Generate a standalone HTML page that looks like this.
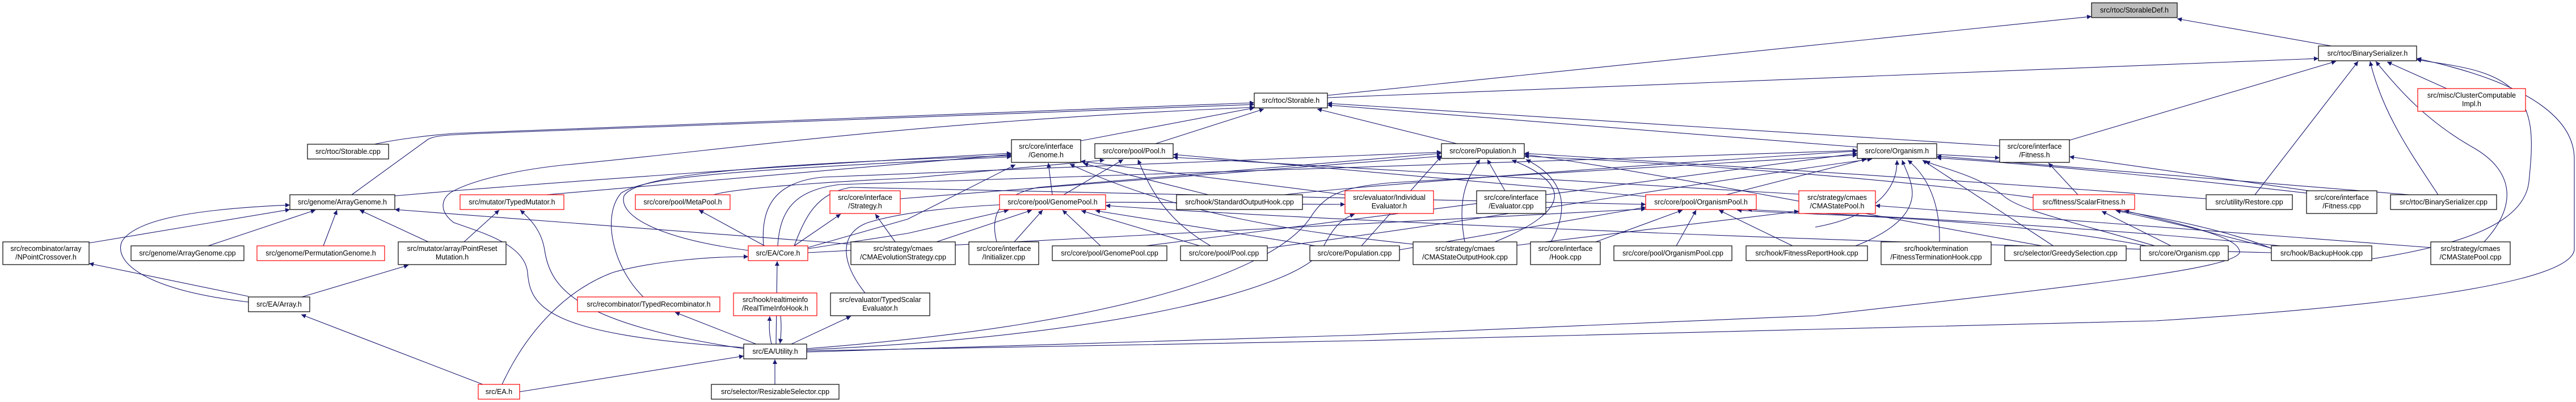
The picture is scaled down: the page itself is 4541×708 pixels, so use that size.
<!DOCTYPE html>
<html><head><meta charset="utf-8"><style>
html,body{margin:0;padding:0;background:#fff;}
svg{display:block;}
text{font-family:"Liberation Sans",sans-serif;font-size:12.5px;fill:#000;text-anchor:middle;}
.e{fill:none;stroke:#191970;stroke-width:1.1;marker-end:url(#a);}
.n{fill:#fff;stroke:#000;stroke-width:1.2;}
.r{fill:#fff;stroke:#ff0000;stroke-width:1.2;}
</style></head><body>
<svg width="4541" height="708" viewBox="0 0 4541 708" xmlns="http://www.w3.org/2000/svg">
<defs><marker id="a" viewBox="0 0 10 10" refX="10" refY="5" markerWidth="11" markerHeight="8" markerUnits="userSpaceOnUse" orient="auto"><path d="M0,0 L10,5 L0,10z" fill="#191970"/></marker></defs>
<g>
<path class="e" d="M2340,168 L3687,29"/>
<path class="e" d="M4110,81 L3838,33"/>
<path class="e" d="M2340,172 L4087,103"/>
<path class="e" d="M3648,247 L4118,108"/>
<path class="e" d="M3975,343 L4157,108"/>
<path class="e" d="M4298,343 C4250,270 4200,200 4178,108"/>
<path class="e" d="M4379,426 C4440,360 4430,300 4360,260 C4280,215 4230,160 4188,108"/>
<path class="e" d="M4313,156 L4208,109"/>
<path class="e" d="M4181,456 C4350,430 4450,390 4458,320 C4465,250 4470,190 4420,150 C4380,120 4320,115 4260,105"/>
<path class="e" d="M1422,618 L2400,600 L3800,565 C4200,540 4530,500 4538,440 L4538,280 C4538,220 4480,150 4260,103"/>
<path class="e" d="M660,254 C700,245 760,238 800,235 L2211,181"/>
<path class="e" d="M620,343 L755,245 C770,238 790,237 900,233 L2211,184"/>
<path class="e" d="M1311,612 C960,590 935,540 930,480 C925,430 850,410 800,392 C770,370 780,345 800,336 C830,320 900,300 1000,290 C1300,262 1600,215 2211,189"/>
<path class="e" d="M1905,248 L2211,190"/>
<path class="e" d="M2037,253 L2228,192"/>
<path class="e" d="M2568,253 L2322,192"/>
<path class="e" d="M3274,259 L2340,185"/>
<path class="e" d="M3525,257 L2340,182"/>
<path class="e" d="M696,345 L800,336 C1000,320 1400,290 1783,270"/>
<path class="e" d="M963,343 L1783,272"/>
<path class="e" d="M1319,441 C1160,420 1090,380 1100,345 C1120,310 1300,290 1783,274"/>
<path class="e" d="M1134,523 C1080,470 1060,380 1095,340 C1140,310 1300,300 1783,276"/>
<path class="e" d="M1424,436 L1600,386 L1790,290"/>
<path class="e" d="M1855,343 L1848,287"/>
<path class="e" d="M2130,343 L1910,288"/>
<path class="e" d="M2371,343 L1905,284"/>
<path class="e" d="M2491,430 C2300,410 2080,380 1886,289"/>
<path class="e" d="M1875,343 L1980,281"/>
<path class="e" d="M2134,433 C2060,390 2030,340 2006,281"/>
<path class="e" d="M1258,343 C1300,330 1500,318 1600,314 L1947,282"/>
<path class="e" d="M2901,346 L2068,272"/>
<path class="e" d="M3171,342 L2068,277"/>
<path class="e" d="M1346,433 C1340,360 1370,320 1450,312 L2541,268"/>
<path class="e" d="M1371,433 C1375,370 1400,335 1480,325 L3274,265"/>
<path class="e" d="M1400,433 C1420,380 1440,340 1500,330 L2901,360"/>
<path class="e" d="M2582,426 C2570,360 2580,320 2609,281"/>
<path class="e" d="M2653,336 L2622,281"/>
<path class="e" d="M2635,426 C2700,400 2745,370 2740,340 C2735,315 2700,295 2665,282"/>
<path class="e" d="M2734,426 C2760,380 2770,320 2690,281"/>
<path class="e" d="M2400,433 L2541,275"/>
<path class="e" d="M3600,433 C3300,380 2900,300 2687,272"/>
<path class="e" d="M4010,440 C3800,350 3200,300 2687,275"/>
<path class="e" d="M3043,343 L3290,280"/>
<path class="e" d="M3271,433 C3330,410 3370,380 3371,341 C3371,320 3360,300 3353,282"/>
<path class="e" d="M3419,427 C3420,380 3410,320 3363,282"/>
<path class="e" d="M3621,434 L3389,282"/>
<path class="e" d="M3802,434 C3650,390 3560,370 3532,345 C3490,310 3420,295 3394,284"/>
<path class="e" d="M3200,400 C3310,380 3345,330 3344,282"/>
<path class="e" d="M4247,343 L3414,275"/>
<path class="e" d="M1422,614 C2000,570 2260,470 2314,377 C2340,340 2370,330 2450,322 L3274,273"/>
<path class="e" d="M3414,272 L3525,278"/>
<path class="e" d="M3663,343 L3611,287"/>
<path class="e" d="M4070,336 L3648,276"/>
<path class="e" d="M2813,426 L2966,370"/>
<path class="e" d="M2955,433 L2990,370"/>
<path class="e" d="M3160,433 L3030,370"/>
<path class="e" d="M3790,434 C3500,380 3200,380 3062,370"/>
<path class="e" d="M4020,433 C3700,400 3300,380 3080,369"/>
<path class="e" d="M1424,445 L2901,368"/>
<path class="e" d="M2467,440 L2901,365"/>
<path class="e" d="M1424,438 L1600,411 L1778,370"/>
<path class="e" d="M1651,426 L1819,370"/>
<path class="e" d="M1788,426 L1838,370"/>
<path class="e" d="M1940,433 L1873,370"/>
<path class="e" d="M2115,433 L1906,371"/>
<path class="e" d="M2319,433 L1931,371"/>
<path class="e" d="M4004,445 C3000,420 2200,380 1949,362"/>
<path class="e" d="M1400,433 L1482,377"/>
<path class="e" d="M1578,426 L1543,377"/>
<path class="e" d="M1348,433 L1232,370"/>
<path class="e" d="M1368,606 L1370,460"/>
<path class="e" d="M1360,606 C1355,585 1356,570 1357,557"/>
<path class="e" d="M1376,556 C1378,575 1377,590 1375,605"/>
<path class="e" d="M885,677 C930,580 1000,510 1080,480 C1150,460 1250,452 1319,452"/>
<path class="e" d="M916,690 L1311,627"/>
<path class="e" d="M1366,677 L1366,633"/>
<path class="e" d="M1333,606 L1190,550"/>
<path class="e" d="M1395,606 L1500,557"/>
<path class="e" d="M1311,614 C1020,570 970,510 960,440 C955,410 940,390 917,370"/>
<path class="e" d="M851,677 L531,554"/>
<path class="e" d="M438,532 C250,510 200,460 215,425 C240,385 350,368 511,361"/>
<path class="e" d="M157,428 L511,369"/>
<path class="e" d="M367,433 L556,370"/>
<path class="e" d="M570,433 L594,370"/>
<path class="e" d="M755,426 L634,370"/>
<path class="e" d="M438,522 L157,464"/>
<path class="e" d="M532,523 L720,467"/>
<path class="e" d="M818,426 L880,370"/>
<path class="e" d="M1499,430 L696,369"/>
<path class="e" d="M1525,516 C1480,460 1480,410 1530,392 C1700,340 2100,360 2371,360"/>
<path class="e" d="M1422,616 C2000,590 2300,500 2330,440 C2350,400 2365,385 2388,377"/>
<path class="e" d="M1587,350 L2541,275"/>
<path class="e" d="M2264,343 C2400,327 2900,290 3274,266"/>
<path class="e" d="M2233,437 C2600,390 3000,320 3300,280"/>
<path class="e" d="M2020,433 C2300,400 2900,320 3274,270"/>
<path class="e" d="M1757,426 C1745,380 1760,345 1830,330 L2541,270"/>
<path class="e" d="M4285,436 L3306,362"/>
<path class="e" d="M3827,433 L3705,372"/>
<path class="e" d="M4004,437 C3900,410 3800,385 3730,371"/>
<path class="e" d="M1422,620 L2400,590 L3200,556 C3700,500 3935,473 3948,445 C3950,420 3870,400 3745,371"/>
<path class="e" d="M2674,432 L3171,372"/>
<path class="e" d="M3889,350 C3500,320 3000,290 2687,270"/>
<path class="e" d="M4066,340 C3800,310 3600,290 3414,278"/>
</g>
<g>
<rect x="3687" y="5" width="151" height="26" fill="#bfbfbf" stroke="#000" stroke-width="1.2"/><text x="3762.5" y="22">src/rtoc/StorableDef.h</text>
<rect class="n" x="4087" y="81" width="173" height="26"/><text x="4173.5" y="98">src/rtoc/BinarySerializer.h</text>
<rect class="n" x="2211" y="164" width="129" height="26"/><text x="2275.5" y="181">src/rtoc/Storable.h</text>
<rect class="r" x="4262" y="156" width="190" height="40"/><text x="4357" y="172">src/misc/ClusterComputable</text><text x="4357" y="187">Impl.h</text>
<rect class="n" x="542" y="254" width="143" height="26"/><text x="613.5" y="271">src/rtoc/Storable.cpp</text>
<rect class="n" x="1783" y="246" width="122" height="40"/><text x="1844" y="262">src/core/interface</text><text x="1844" y="277">/Genome.h</text>
<rect class="n" x="1930" y="253" width="138" height="26"/><text x="1999" y="270">src/core/pool/Pool.h</text>
<rect class="n" x="2541" y="253" width="146" height="26"/><text x="2614" y="270">src/core/Population.h</text>
<rect class="n" x="3274" y="253" width="140" height="26"/><text x="3344" y="270">src/core/Organism.h</text>
<rect class="n" x="3525" y="246" width="123" height="40"/><text x="3586.5" y="262">src/core/interface</text><text x="3586.5" y="277">/Fitness.h</text>
<rect class="n" x="511" y="343" width="185" height="26"/><text x="603.5" y="360">src/genome/ArrayGenome.h</text>
<rect class="r" x="811" y="343" width="183" height="26"/><text x="902.5" y="360">src/mutator/TypedMutator.h</text>
<rect class="r" x="1120" y="343" width="167" height="26"/><text x="1203.5" y="360">src/core/pool/MetaPool.h</text>
<rect class="r" x="1463" y="336" width="124" height="40"/><text x="1525" y="352">src/core/interface</text><text x="1525" y="367">/Strategy.h</text>
<rect class="r" x="1762" y="343" width="187" height="26"/><text x="1855.5" y="360">src/core/pool/GenomePool.h</text>
<rect class="n" x="2074" y="343" width="222" height="26"/><text x="2185" y="360">src/hook/StandardOutputHook.cpp</text>
<rect class="r" x="2371" y="336" width="156" height="40"/><text x="2449" y="352">src/evaluator/Individual</text><text x="2449" y="367">Evaluator.h</text>
<rect class="n" x="2603" y="336" width="122" height="40"/><text x="2664" y="352">src/core/interface</text><text x="2664" y="367">/Evaluator.cpp</text>
<rect class="r" x="2901" y="343" width="195" height="26"/><text x="2998.5" y="360">src/core/pool/OrganismPool.h</text>
<rect class="r" x="3171" y="336" width="135" height="40"/><text x="3238.5" y="352">src/strategy/cmaes</text><text x="3238.5" y="367">/CMAStatePool.h</text>
<rect class="r" x="3584" y="343" width="179" height="26"/><text x="3673.5" y="360">src/fitness/ScalarFitness.h</text>
<rect class="n" x="3889" y="343" width="152" height="26"/><text x="3965" y="360">src/utility/Restore.cpp</text>
<rect class="n" x="4066" y="336" width="124" height="40"/><text x="4128" y="352">src/core/interface</text><text x="4128" y="367">/Fitness.cpp</text>
<rect class="n" x="4214" y="343" width="187" height="26"/><text x="4307.5" y="360">src/rtoc/BinarySerializer.cpp</text>
<rect class="n" x="5" y="426" width="152" height="40"/><text x="81" y="442">src/recombinator/array</text><text x="81" y="457">/NPointCrossover.h</text>
<rect class="n" x="231" y="433" width="199" height="26"/><text x="330.5" y="450">src/genome/ArrayGenome.cpp</text>
<rect class="r" x="453" y="433" width="225" height="26"/><text x="565.5" y="450">src/genome/PermutationGenome.h</text>
<rect class="n" x="702" y="426" width="190" height="40"/><text x="797" y="442">src/mutator/array/PointReset</text><text x="797" y="457">Mutation.h</text>
<rect class="r" x="1319" y="433" width="105" height="26"/><text x="1371.5" y="450">src/EA/Core.h</text>
<rect class="n" x="1500" y="426" width="184" height="40"/><text x="1592" y="442">src/strategy/cmaes</text><text x="1592" y="457">/CMAEvolutionStrategy.cpp</text>
<rect class="n" x="1708" y="426" width="123" height="40"/><text x="1769.5" y="442">src/core/interface</text><text x="1769.5" y="457">/Initializer.cpp</text>
<rect class="n" x="1855" y="433" width="202" height="26"/><text x="1956" y="450">src/core/pool/GenomePool.cpp</text>
<rect class="n" x="2081" y="433" width="153" height="26"/><text x="2157.5" y="450">src/core/pool/Pool.cpp</text>
<rect class="n" x="2309" y="433" width="158" height="26"/><text x="2388" y="450">src/core/Population.cpp</text>
<rect class="n" x="2491" y="426" width="183" height="40"/><text x="2582.5" y="442">src/strategy/cmaes</text><text x="2582.5" y="457">/CMAStateOutputHook.cpp</text>
<rect class="n" x="2698" y="426" width="123" height="40"/><text x="2759.5" y="442">src/core/interface</text><text x="2759.5" y="457">/Hook.cpp</text>
<rect class="n" x="2845" y="433" width="208" height="26"/><text x="2949" y="450">src/core/pool/OrganismPool.cpp</text>
<rect class="n" x="3078" y="433" width="214" height="26"/><text x="3185" y="450">src/hook/FitnessReportHook.cpp</text>
<rect class="n" x="3316" y="426" width="194" height="40"/><text x="3413" y="442">src/hook/termination</text><text x="3413" y="457">/FitnessTerminationHook.cpp</text>
<rect class="n" x="3534" y="433" width="214" height="26"/><text x="3641" y="450">src/selector/GreedySelection.cpp</text>
<rect class="n" x="3773" y="433" width="155" height="26"/><text x="3850.5" y="450">src/core/Organism.cpp</text>
<rect class="n" x="4004" y="433" width="177" height="26"/><text x="4092.5" y="450">src/hook/BackupHook.cpp</text>
<rect class="n" x="4285" y="426" width="140" height="40"/><text x="4355" y="442">src/strategy/cmaes</text><text x="4355" y="457">/CMAStatePool.cpp</text>
<rect class="r" x="1018" y="523" width="251" height="26"/><text x="1143.5" y="540">src/recombinator/TypedRecombinator.h</text>
<rect class="r" x="1293" y="516" width="147" height="40"/><text x="1366.5" y="532">src/hook/realtimeinfo</text><text x="1366.5" y="547">/RealTimeInfoHook.h</text>
<rect class="n" x="1464" y="516" width="175" height="40"/><text x="1551.5" y="532">src/evaluator/TypedScalar</text><text x="1551.5" y="547">Evaluator.h</text>
<rect class="n" x="438" y="523" width="108" height="26"/><text x="492" y="540">src/EA/Array.h</text>
<rect class="n" x="1311" y="606" width="111" height="26"/><text x="1366.5" y="623">src/EA/Utility.h</text>
<rect class="r" x="843" y="677" width="73" height="26"/><text x="879.5" y="694">src/EA.h</text>
<rect class="n" x="1254" y="677" width="225" height="26"/><text x="1366.5" y="694">src/selector/ResizableSelector.cpp</text>
</g>
</svg>
</body></html>
